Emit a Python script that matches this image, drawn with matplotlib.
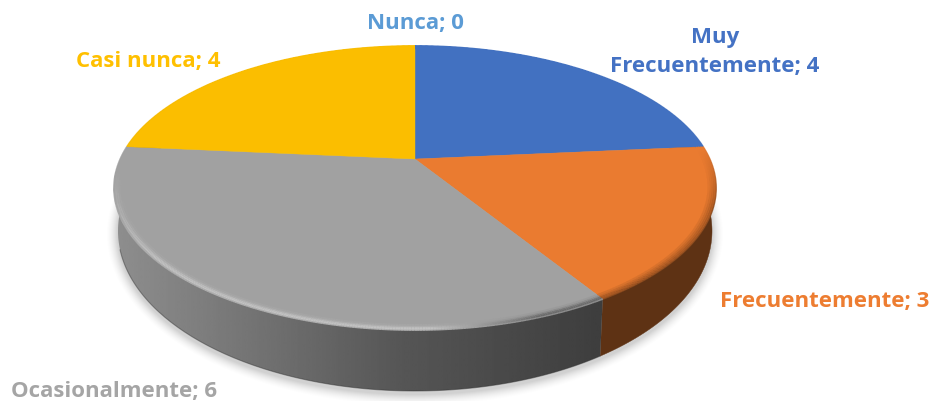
import numpy as np
import matplotlib
matplotlib.use("Agg")
import matplotlib.pyplot as plt
from matplotlib.patches import Polygon
from matplotlib.collections import LineCollection
from matplotlib.colors import to_rgb

categories = ["Nunca", "Muy\nFrecuentemente", "Frecuentemente", "Ocasionalmente", "Casi nunca"]
values = [0, 4, 3, 6, 4]
top_colors = ["#5B9BD5", "#4271C1", "#EA7B30", "#A1A1A1", "#FBBE00"]
side_colors = ["#2F5F8A", "#27447A", "#5E3214", "#6E6E6E", "#8A6A00"]
text_colors = ["#5B9BD5", "#4472C4", "#ED7D31", "#A5A5A5", "#FFC000"]
label_pos = [(415, 23), (715, 52), (825, 302), (114.5, 392), (148, 61)]

CX, CY, A, B, K = 415.0, 189.0, 301.0, 142.0, 0.204
BCY, BA, BB = 232.0, 297.0, 160.0

fig = plt.figure(figsize=(9.35, 4.02), dpi=100)
ax = fig.add_axes([0, 0, 1, 1])
ax.set_axis_off()


def project(theta, r=1.0, cy=CY, a=A, b=B):
    u = r * np.sin(theta)
    v = r * np.cos(theta)
    d = 1 + K * v
    x = u * np.sqrt(1 - K * K) / d
    y = (v + K) / d
    return CX + a * x, cy - b * y


# soft shadow below the disc
t = np.linspace(0, 2 * np.pi, 400)
for grow, alpha in zip(np.linspace(11, 1, 11), np.linspace(0.008, 0.025, 11)):
    sx, sy = project(t, 1.0, BCY + 3, BA + grow, BB + grow)
    ax.fill(sx, sy, color="black", alpha=alpha, lw=0, zorder=1)

fractions = np.array(values, dtype=float) / sum(values)
edges = np.concatenate([[0.0], np.cumsum(fractions)]) * 2 * np.pi

# side wall, drawn under the top surface
for i in range(len(values)):
    if values[i] == 0:
        continue
    th = np.linspace(edges[i], edges[i + 1], 200)
    xt, yt = project(th)
    xb, yb = project(th[::-1], 1.0, BCY, BA, BB)
    pts = np.column_stack([np.r_[xt, xb], np.r_[yt, yb]])
    if categories[i] == "Ocasionalmente":
        xs = np.linspace(110, 610, 256)
        g = np.interp(xs, [115, 200, 300, 400, 500, 600], [142, 126, 106, 86, 74, 62]) / 255
        im = ax.imshow(g[None, :], extent=(110, 610, 402, 0), cmap="gray", vmin=0, vmax=1,
                       aspect="auto", zorder=2, interpolation="bilinear")
        poly = Polygon(pts, closed=True, transform=ax.transData, fc="none", ec="none")
        ax.add_patch(poly)
        im.set_clip_path(poly)
        mask = th[::-1] < np.pi * 1.4
        ax.plot(xb[mask], yb[mask], color="#333333", lw=0.8, alpha=0.45, zorder=3)
    else:
        ax.add_patch(Polygon(pts, closed=True, fc=side_colors[i], ec=side_colors[i], lw=0.3, zorder=2))

# top surface
for i in range(len(values)):
    if values[i] == 0:
        continue
    th = np.linspace(edges[i], edges[i + 1], 300)
    ex, ey = project(th)
    ax0, ay0 = project(np.array([0.0]), 0.0)
    ax.add_patch(Polygon(np.column_stack([np.r_[ax0, ex], np.r_[ay0, ey]]), closed=True,
                         fc=top_colors[i], ec=top_colors[i], lw=0.3, zorder=4))

# bevel along the front rim of the top surface
radii = [1.0, 0.994, 0.988, 0.982, 0.976]
for i in range(len(values)):
    if values[i] == 0:
        continue
    th = np.linspace(edges[i], edges[i + 1], 300)
    base = np.array(to_rgb(top_colors[i]))
    for j, r in enumerate(radii):
        ex, ey = project(th, r)
        segs = np.stack([np.column_stack([ex[:-1], ey[:-1]]), np.column_stack([ex[1:], ey[1:]])], axis=1)
        xm = (ex[:-1] + ex[1:]) / 2
        ym = (ey[:-1] + ey[1:]) / 2
        fade = (len(radii) - j) / len(radii)
        if categories[i] == "Ocasionalmente":
            front = np.clip((ym - 170) / 90, 0, 1)
            light = np.clip((540 - xm) / 110, 0, 1)
            target = np.outer(light, [0.80, 0.80, 0.80]) + np.outer(1 - light, [0.36, 0.36, 0.36])
            peak = np.array([0.3, 0.8, 0.65, 0.3, 0.1])[j]
            w = (front * peak)[:, None]
        else:
            front = np.clip((ym - 150) / 60, 0, 1)
            target = np.tile(np.array(to_rgb(side_colors[i])), (len(xm), 1))
            w = (front * fade * 0.7)[:, None]
        cols = base * (1 - w) + target * w
        ax.add_collection(LineCollection(segs, colors=cols, linewidths=1.3, zorder=5, capstyle="butt"))

for i, cat in enumerate(categories):
    ax.text(label_pos[i][0], label_pos[i][1], f"{cat}; {values[i]}", color=text_colors[i],
            fontsize=16, fontweight="bold", family="Open Sans", ha="center", va="center",
            linespacing=1.55, zorder=6)

ax.set_xlim(0, 935)
ax.set_ylim(402, 0)
fig.savefig("out.png", dpi=100)
